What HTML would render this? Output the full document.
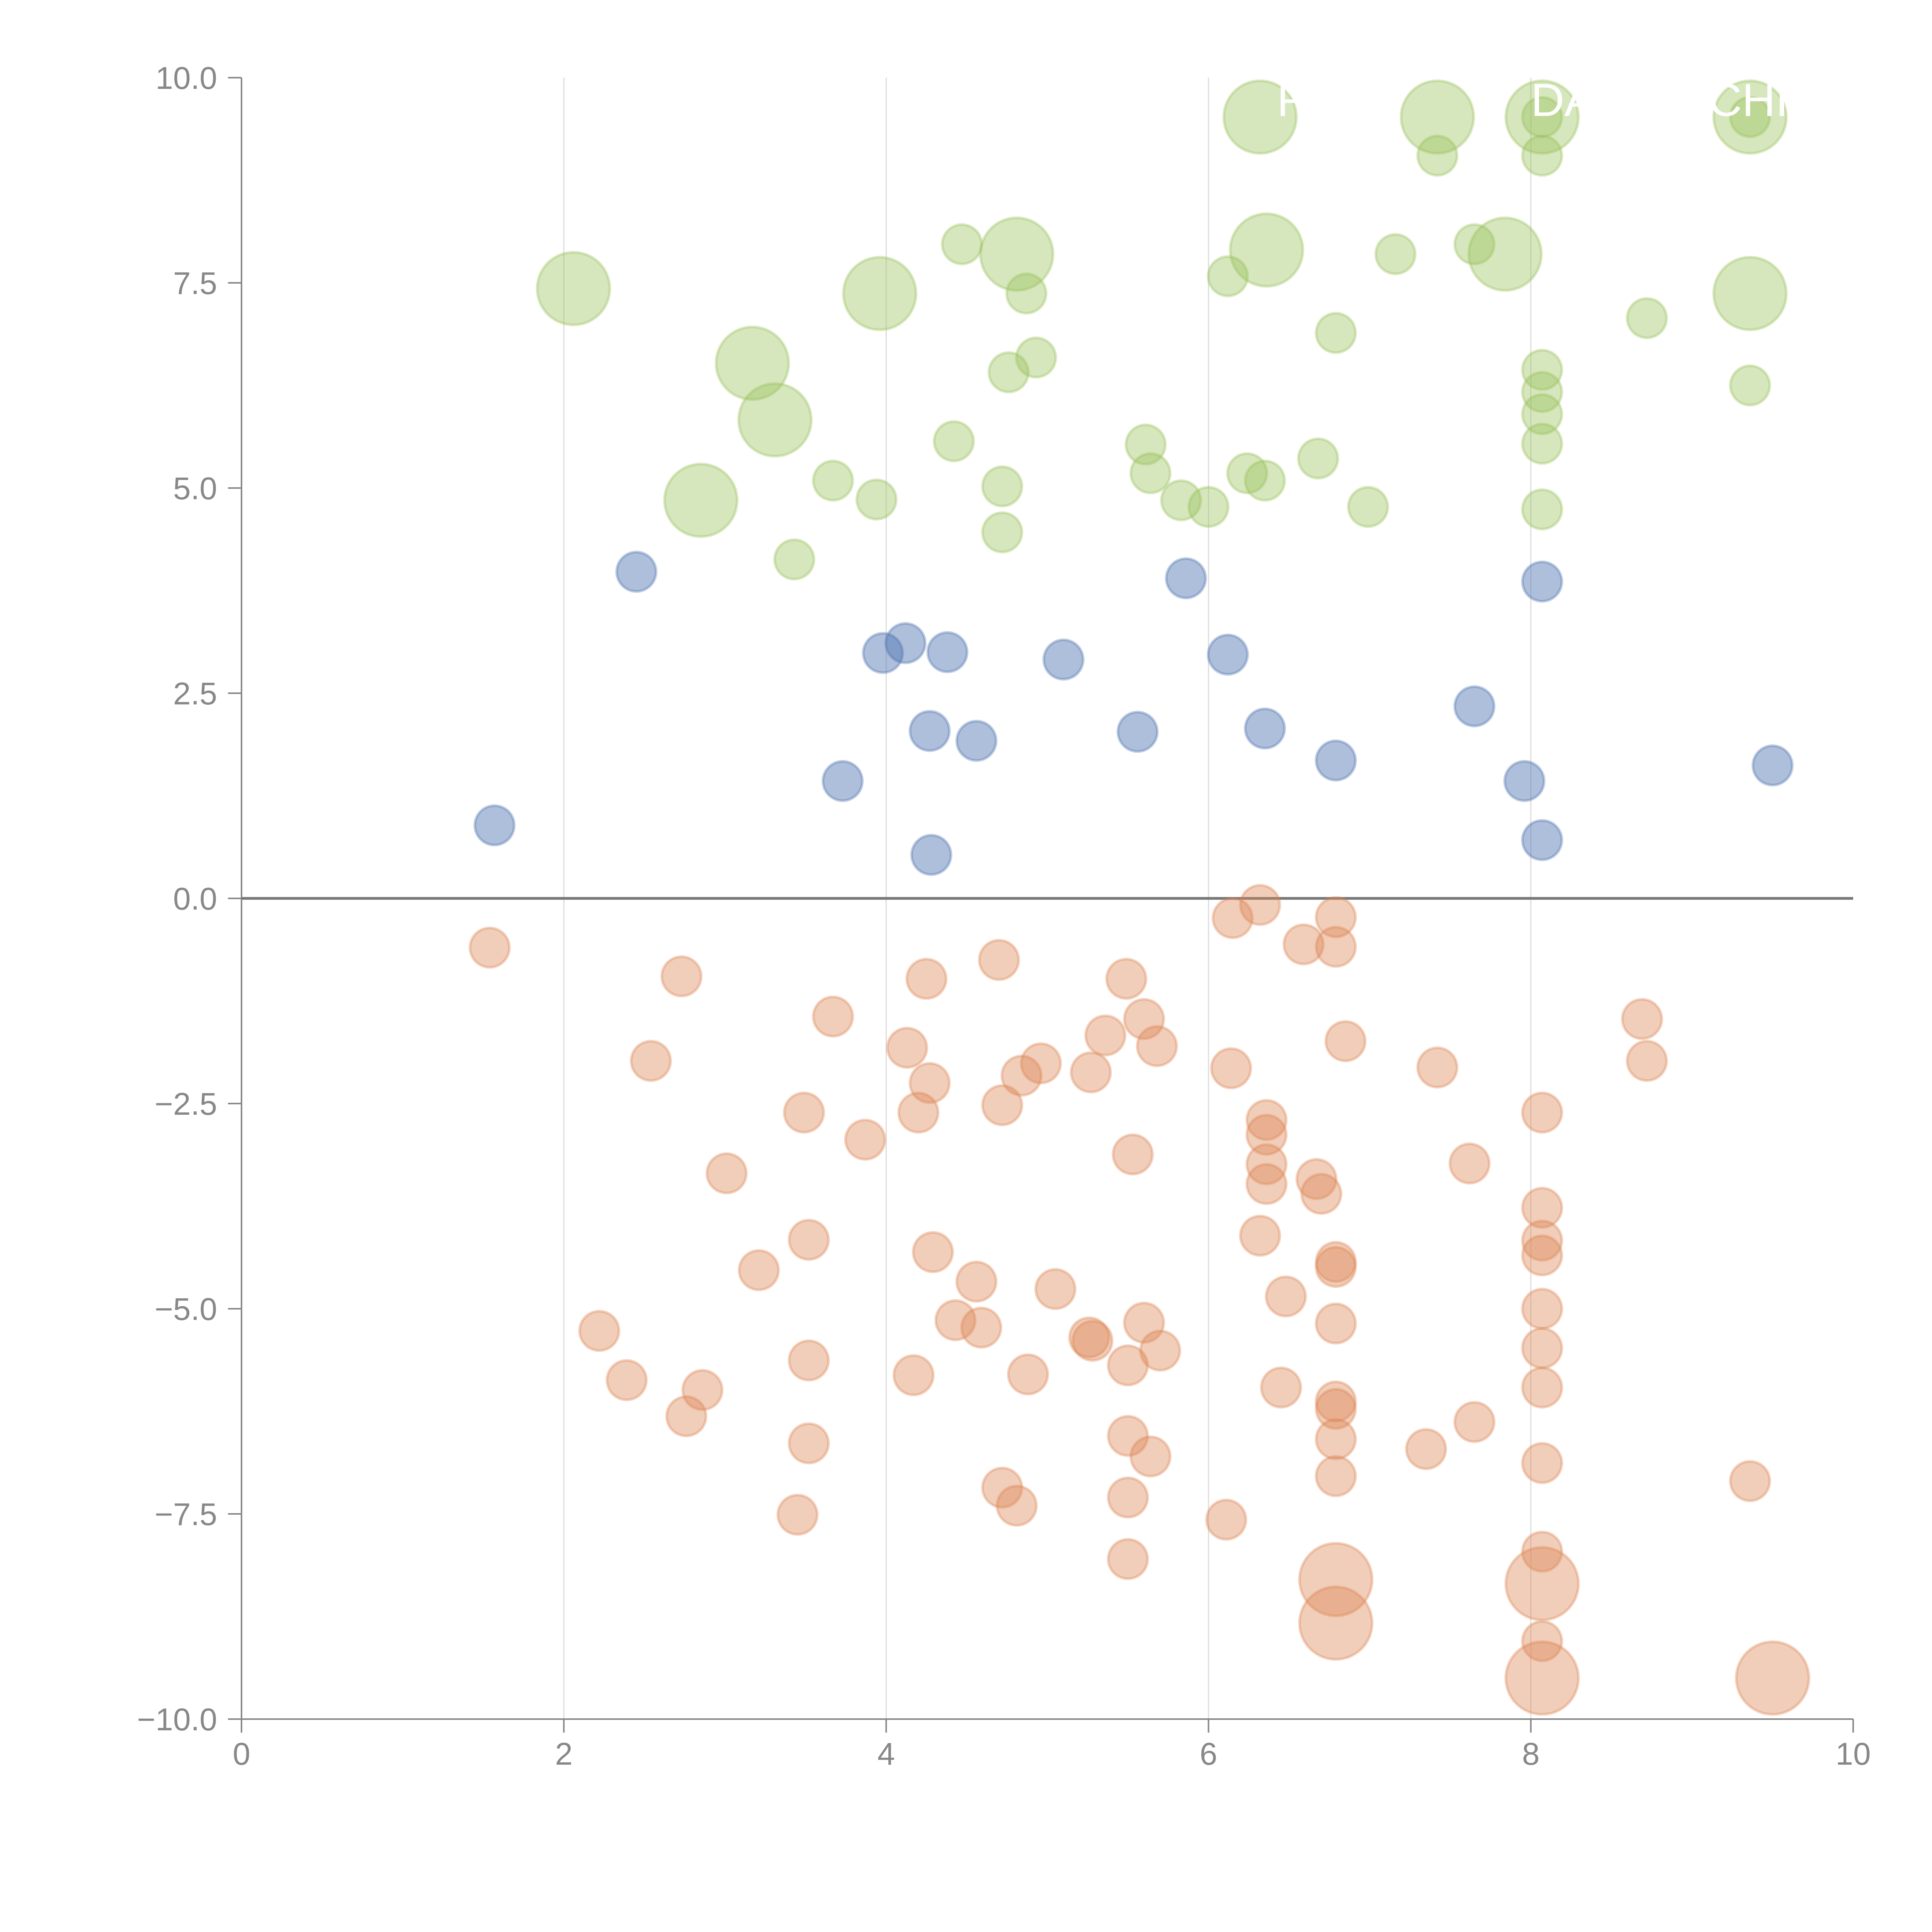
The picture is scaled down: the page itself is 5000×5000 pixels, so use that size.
<!DOCTYPE html>
<html><head><meta charset="utf-8">
<style>html,body{margin:0;padding:0;background:#fff}svg{display:block}</style>
</head><body>
<svg id="chart" width="5000" height="5000" viewBox="0 0 5000 5000" xmlns="http://www.w3.org/2000/svg" font-family="Liberation Sans, sans-serif">
<g id="grid"></g>
<g id="axes"></g>
<g id="marks"></g>
<g id="labels"></g>
</svg>
<script>
const xTicks = [0, 2, 4, 6, 8, 10];
const xTickLabels = ["0", "2", "4", "6", "8", "10"];
const yTicks = [10, 7.5, 5, 2.5, 0, -2.5, -5, -7.5, -10];
const yTickLabels = ["10.0", "7.5", "5.0", "2.5", "0.0", "\u22122.5", "\u22125.0", "\u22127.5", "\u221210.0"];

const greenX = [6.32,7.42,8.07,9.36,2.06,3.96,4.81,6.36,7.84,9.36,3.17,3.31,2.85,
  7.42,8.07,8.07,9.36,4.47,6.12,4.87,7.16,7.65,6.79,8.72,4.76,4.93,8.07,8.07,8.07,8.07,8.07,9.36,4.42,5.61,5.64,3.67,3.94,4.72,5.83,6.00,6.24,6.35,6.68,6.99,3.43,4.72];
const greenY = [9.52,9.52,9.52,9.52,7.43,7.37,7.85,7.90,7.85,7.37,6.52,5.83,4.85,
  9.05,9.05,9.52,9.52,7.97,7.58,7.37,7.85,7.97,6.89,7.07,6.41,6.59,6.44,6.17,5.90,5.54,4.74,6.25,5.57,5.53,5.18,5.09,4.86,5.02,4.85,4.77,5.18,5.09,5.36,4.77,4.13,4.46];
const greenSize = [2,2,2,2,2,2,2,2,2,2,2,2,2,
  1,1,1,1,1,1,1,1,1,1,1,1,1,1,1,1,1,1,1,1,1,1,1,1,1,1,1,1,1,1,1,1,1];

const blueX = [1.57,2.45,3.98,4.12,4.38,5.10,5.86,6.12,7.65,8.07,4.27,4.56,5.56,6.35,6.79,3.73,7.96,9.50,4.28,8.07];
const blueY = [0.89,3.98,2.99,3.11,3.00,2.91,3.90,2.97,2.34,3.86,2.04,1.92,2.03,2.07,1.68,1.43,1.43,1.62,0.53,0.71];
const blueSize = [1,1,1,1,1,1,1,1,1,1,1,1,1,1,1,1,1,1,1,1];

const orangeX = [1.54,2.73,4.25,4.70,5.49,6.15,6.32,6.59,6.79,6.79,3.67,4.13,5.60,5.36,5.68,6.85,2.54,4.96,4.84,5.27,4.27,6.14,7.42,8.69,8.72,
  3.49,4.20,4.72,8.07,3.87,3.01,5.53,6.36,6.36,6.36,6.36,7.62,6.67,6.70,6.32,3.52,3.21,4.29,8.07,8.07,8.07,4.56,5.05,6.79,6.79,6.48,
  2.22,4.43,4.59,5.60,6.79,8.07,5.26,5.28,5.70,5.50,3.52,8.07,2.39,2.86,4.17,4.88,6.45,8.07,2.76,6.79,6.79,7.65,3.52,5.50,5.64,6.79,7.35,8.07,6.79,9.36,
  4.72,4.81,5.50,3.45,6.11,8.07,5.50,8.07,
  6.79,6.79,8.07,8.07,9.50];
const orangeY = [-0.60,-0.95,-0.98,-0.75,-0.98,-0.24,-0.08,-0.56,-0.23,-0.59,-1.44,-1.82,-1.47,-1.67,-1.80,-1.74,-1.98,-2.01,-2.16,-2.12,-2.25,-2.07,-2.06,-1.47,-1.98,
  -2.61,-2.61,-2.52,-2.61,-2.94,-3.35,-3.12,-2.70,-2.88,-3.24,-3.48,-3.23,-3.42,-3.60,-4.11,-4.16,-4.53,-4.31,-3.77,-4.17,-4.35,-4.67,-4.76,-4.43,-4.49,-4.85,
  -5.27,-5.14,-5.23,-5.17,-5.18,-5.00,-5.35,-5.39,-5.51,-5.69,-5.63,-5.48,-5.87,-5.99,-5.81,-5.80,-5.96,-5.96,-6.31,-6.13,-6.22,-6.38,-6.64,-6.55,-6.80,-6.59,-6.71,-6.88,-7.04,-7.10,
  -7.18,-7.40,-7.30,-7.51,-7.57,-7.96,-8.05,-9.05,
  -8.30,-8.83,-8.35,-9.50,-9.50];
const orangeSize = [1,1,1,1,1,1,1,1,1,1,1,1,1,1,1,1,1,1,1,1,1,1,1,1,1,
  1,1,1,1,1,1,1,1,1,1,1,1,1,1,1,1,1,1,1,1,1,1,1,1,1,1,
  1,1,1,1,1,1,1,1,1,1,1,1,1,1,1,1,1,1,1,1,1,1,1,1,1,1,1,1,1,1,
  1,1,1,1,1,1,1,1,
  2,2,2,2,2];

const topLabels = ["FA", "DA", "CHI"];
const topLabelX = [6.6, 8.2, 9.35];

const NS = "http://www.w3.org/2000/svg";
const X0 = 625, X1 = 4796, Ytop = 201, Ybot = 4449;
function sx(v){ return X0 + (v - 0) / 10 * (X1 - X0); }
function sy(v){ return Ybot - (v + 10) / 20 * (Ybot - Ytop); }
function rad(s){ return s === 2 ? 94 : 51; }
function mk(tag, attrs, parent){
  const e = document.createElementNS(NS, tag);
  for (const k in attrs) e.setAttribute(k, attrs[k]);
  parent.appendChild(e); return e;
}
const grid = document.getElementById('grid');
const axes = document.getElementById('axes');
const marks = document.getElementById('marks');
const labels = document.getElementById('labels');

xTicks.forEach((t, i) => {
  if (t > 0 && t < 10) {
    const g = mk('line', {x1: sx(t), x2: sx(t), y1: Ytop, y2: Ybot, stroke: '#dcdcdc', 'stroke-width': 3}, grid);
    
    
  }
  const tk = mk('line', {x1: sx(t), x2: sx(t), y1: Ybot, y2: Ybot + 35, stroke: '#888', 'stroke-width': 4}, axes);
  
  
  const tx = mk('text', {x: sx(t), y: Ybot + 118, 'text-anchor': 'middle', 'font-size': 82, fill: '#888'}, axes);
  tx.textContent = xTickLabels[i];
  
  
});
yTicks.forEach((t, i) => {
  const tk = mk('line', {x1: X0 - 35, x2: X0, y1: sy(t), y2: sy(t), stroke: '#888', 'stroke-width': 4}, axes);
  
  
  const tx = mk('text', {x: 562, y: sy(t) + 29, 'text-anchor': 'end', 'font-size': 82, fill: '#888'}, axes);
  tx.textContent = yTickLabels[i];
  
  
});
const ya = mk('line', {x1: X0, x2: X0, y1: Ytop, y2: Ybot, stroke: '#888', 'stroke-width': 4}, axes);


const xa = mk('line', {x1: X0, x2: X1, y1: Ybot, y2: Ybot, stroke: '#888', 'stroke-width': 4}, axes);


const zl = mk('line', {x1: X0, x2: X1, y1: sy(0), y2: sy(0), stroke: '#777', 'stroke-width': 7}, axes);



function series(xs, ys, ss, color, op, name){
  xs.forEach((v, i) => {
    const c = mk('circle', {cx: sx(v), cy: sy(ys[i]), r: rad(ss[i]), fill: color, 'fill-opacity': op, stroke: color, 'stroke-opacity': 0.35, 'stroke-width': 7}, marks);
    
    
  });
}
series(greenX, greenY, greenSize, 'rgb(152,193,90)', 0.4, 'green-bubble');
series(blueX, blueY, blueSize, 'rgb(76,114,176)', 0.45, 'blue-bubble');
series(orangeX, orangeY, orangeSize, 'rgb(221,132,82)', 0.4, 'orange-bubble');

topLabels.forEach((s, i) => {
  const t = mk('text', {x: sx(topLabelX[i]), y: 300, 'text-anchor': 'middle', 'font-size': 120, fill: '#fff'}, labels);
  t.textContent = s;
  
  
});
</script>
</body></html>
